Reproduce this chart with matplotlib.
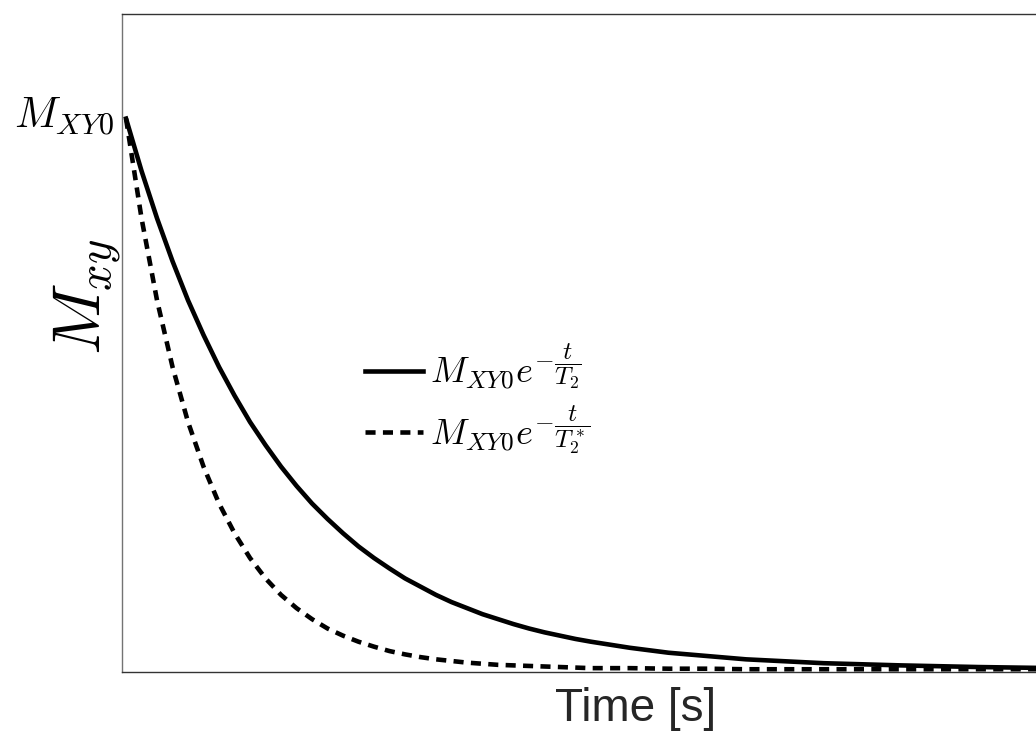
import matplotlib

matplotlib.use('agg')
import matplotlib.pyplot as plt
import matplotlib.transforms as mtransforms

plt.rcParams['mathtext.fontset'] = 'cm'
plt.rcParams['font.family'] = ['Liberation Sans', 'DejaVu Sans']

# time samples [s] and magnetisation (fraction of M_XY0)
t = [0.0, 0.1, 0.2, 0.3, 0.4, 0.5, 0.6, 0.7, 0.8, 0.9,
     1.0, 1.1, 1.2, 1.3, 1.4, 1.5, 1.6, 1.7, 1.8, 1.9,
     2.0, 2.1, 2.2, 2.3, 2.4, 2.5, 2.6, 2.7, 2.8, 2.9,
     3.0, 3.25, 3.5, 3.75, 4.0, 4.5, 5.0, 5.5, 6.0, 6.6]
m_t2 = [1.000, 0.905, 0.819, 0.741, 0.670, 0.607, 0.549, 0.497, 0.449, 0.407,
        0.368, 0.333, 0.301, 0.273, 0.247, 0.223, 0.202, 0.183, 0.165, 0.150,
        0.135, 0.122, 0.111, 0.100, 0.091, 0.082, 0.074, 0.067, 0.061, 0.055,
        0.050, 0.039, 0.030, 0.024, 0.018, 0.011, 0.007, 0.004, 0.002, 0.001]
m_t2star = [1.000, 0.819, 0.670, 0.549, 0.449, 0.368, 0.301, 0.247, 0.202, 0.165,
            0.135, 0.111, 0.091, 0.074, 0.061, 0.050, 0.041, 0.033, 0.027, 0.022,
            0.018, 0.015, 0.012, 0.010, 0.008, 0.007, 0.006, 0.005, 0.004, 0.003,
            0.002, 0.002, 0.001, 0.001, 0.000, 0.000, 0.000, 0.000, 0.000, 0.000]

labels = [r'$M_{XY0}e^{-\dfrac{t}{T_2}}$', r'$M_{XY0}e^{-\dfrac{t}{T_2^*}}$']
ytick_vals = [1.0]
ytick_labels = [r'$M_{XY0}$']

W, H = 1036, 731
fig = plt.figure(figsize=(W / 100, H / 100), dpi=100)
# axes runs past the right edge of the figure, as in the reference crop
ax = fig.add_axes([122 / W, 59 / H, 1027 / W, 658 / H])

ax.plot(t, m_t2, color='black', lw=3.3, label=labels[0])
ax.plot(t, m_t2star, color='black', lw=3.3, dashes=(2.2, 1.6), label=labels[1])

ax.set_xlim(-0.026, 6.6)
ax.set_ylim(-0.005, 1.19)

ax.set_xticks([])
ax.set_yticks(ytick_vals)
ax.set_yticklabels(ytick_labels, fontsize=31)
ax.tick_params(axis='y', length=0, pad=6)
shift = mtransforms.ScaledTranslation(0, 4.5 / 72, fig.dpi_scale_trans)
for lbl in ax.get_yticklabels():
    lbl.set_transform(lbl.get_transform() + shift)

ax.spines['right'].set_visible(False)
ax.spines['left'].set_color('0.45')
ax.spines['bottom'].set_color('0.2')
ax.spines['top'].set_color('0.2')
for s in ax.spines.values():
    s.set_linewidth(1.0)

ax.set_xlabel('Time [s]', fontsize=33, color='#262626', labelpad=11)
ax.set_ylabel(r'$M_{xy}$', fontsize=48)
ax.yaxis.set_label_coords(0.001, 0.57)

ax.legend(loc='upper left', bbox_to_anchor=(365 / W, (H - 342) / H),
          bbox_transform=fig.transFigure, frameon=False, fontsize=26,
          handlelength=1.6, handletextpad=0.2, borderpad=0, borderaxespad=0,
          labelspacing=0.3)

fig.savefig('out.png', dpi=100)
